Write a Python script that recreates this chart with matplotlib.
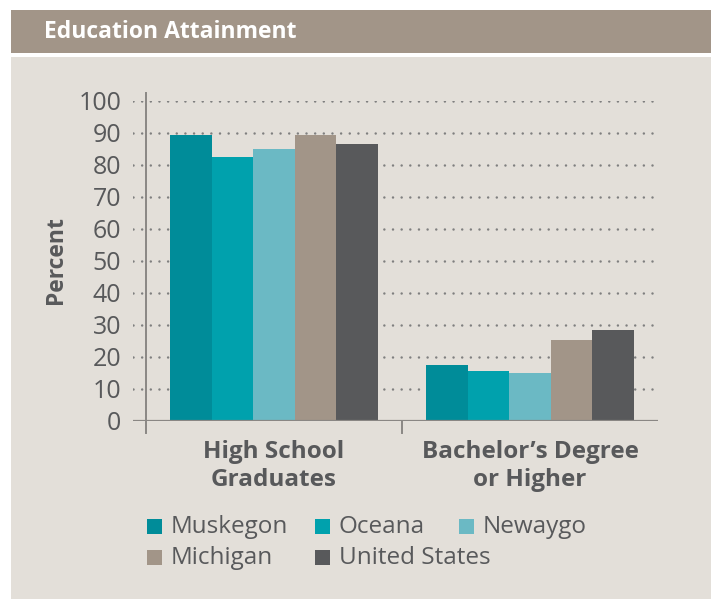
import matplotlib
matplotlib.use("Agg")
import matplotlib.pyplot as plt
from matplotlib.patches import Rectangle
import numpy as np

categories = ["High School\nGraduates", "Bachelor\u2019s Degree\nor Higher"]
series = ["Muskegon", "Oceana", "Newaygo", "Michigan", "United States"]
muskegon = [89.1, 17.4]
oceana = [82.2, 15.5]
newaygo = [84.7, 14.9]
michigan = [89.1, 25.2]
united_states = [86.3, 28.3]
values = [muskegon, oceana, newaygo, michigan, united_states]
colors = ["#008C99", "#00A1AD", "#6BB9C4", "#A29588", "#58595B"]
yticks = [0, 10, 20, 30, 40, 50, 60, 70, 80, 90, 100]

W, H = 711, 599
fig = plt.figure(figsize=(W / 100, H / 100), dpi=100)
fig.patch.set_facecolor("white")
font = "Open Sans"
txtc = "#58595B"

# background panels
fig.patches.append(Rectangle((11 / W, 0), 1, 1 - 57 / H, transform=fig.transFigure,
                             facecolor="#E3DFD9", edgecolor="none", zorder=-5))
fig.patches.append(Rectangle((11 / W, 1 - 53 / H), 1, 43 / H, transform=fig.transFigure,
                             facecolor="#A29588", edgecolor="none", zorder=-5))
fig.text(44 / W, 1 - 32 / H, "Education Attainment", color="white", fontsize=16.5,
         fontweight="bold", family=font, va="center", ha="left")

x0, x1 = -0.55, 1.5
left_px, right_px = 133, 658
top_px, bot_px = 100.5, 420.5
ax = fig.add_axes([left_px / W, 1 - bot_px / H, (right_px - left_px) / W, (bot_px - top_px) / H],
                  zorder=2)
ax.set_facecolor("none")
ax.set_xlim(x0, x1)
ax.set_ylim(0, 100)
for s in ax.spines.values():
    s.set_visible(False)

# gridlines
for y in yticks[1:]:
    ax.plot([x0, x1], [y, y], color="#7F7F7F", lw=1.8, linestyle=(0, (0.01, 3.45)),
            dash_capstyle="round", zorder=1)
ax.plot([x0, x1], [0, 0], color="#8A8784", lw=1.6, zorder=3, solid_capstyle="butt")
ax.plot([-0.5, -0.5], [-4, 102.5], color="#8A8784", lw=1.4, clip_on=False, zorder=3)
ax.plot([0.5, 0.5], [-4, 0], color="#8A8784", lw=1.4, clip_on=False, zorder=3)

bw = 0.162
x = np.arange(len(categories))
for i, (name, vals, c) in enumerate(zip(series, values, colors)):
    ax.bar(x + (i - 2) * bw, vals, width=bw, color=c, edgecolor="none", zorder=2, label=name)

ax.set_yticks(yticks)
ax.set_yticklabels([str(v) for v in yticks], family=font, fontsize=18, color=txtc)
ax.tick_params(axis="y", length=0, pad=8.5)
ax.set_xticks(x)
ax.set_xticklabels(categories, family=font, fontsize=17.5, fontweight="bold", color=txtc,
                   linespacing=1.2)
ax.tick_params(axis="x", length=0, pad=14)
ax.set_ylabel("Percent", family=font, fontsize=16.5, fontweight="bold", color=txtc)
ax.yaxis.set_label_coords((68 - left_px) / (right_px - left_px), 0.5)

# legend: manual grid (columns at fixed pixel x, rows at fixed pixel y)
col_x = [147, 315, 459]
row_y = [526, 557]
sq = 15
for i, (name, c) in enumerate(zip(series, colors)):
    r, k = divmod(i, 3)
    px, py = col_x[k], row_y[r]
    fig.patches.append(Rectangle((px / W, 1 - (py + sq / 2) / H), sq / W, sq / H,
                                 transform=fig.transFigure, facecolor=c, edgecolor="none",
                                 zorder=3))
    fig.text((px + sq + 9) / W, 1 - (py + 1) / H, name, family=font, fontsize=17.5,
             color=txtc, va="center", ha="left")

fig.savefig("out.png", dpi=100, facecolor=fig.get_facecolor())
